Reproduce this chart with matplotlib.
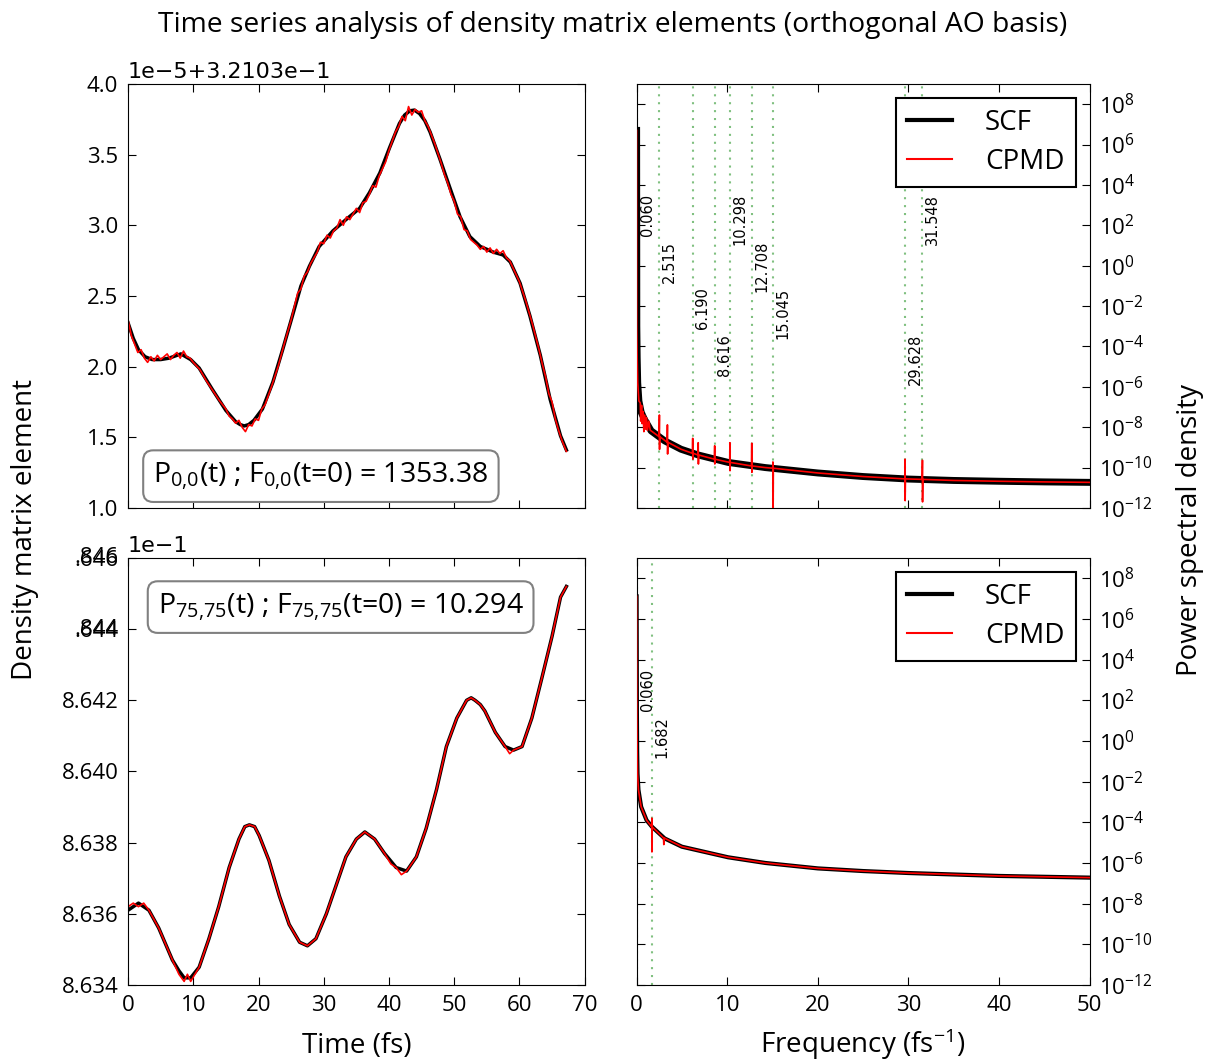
import numpy as np
import matplotlib
matplotlib.use("Agg")
import matplotlib.pyplot as plt
from matplotlib.ticker import FixedLocator, FuncFormatter, NullLocator

plt.rcParams['font.family'] = ['Open Sans', 'DejaVu Sans']
plt.rcParams['mathtext.default'] = 'regular'

# ---- top row: P(0,0) ----
t_scf_00 = [0.0, 0.8, 1.6, 2.6, 3.7, 5.0, 6.3, 8.1, 9.6, 10.9, 12.9, 15.0, 16.5, 17.2, 17.8,
            18.5, 19.3, 20.6, 22.2, 23.7, 25.2, 26.5, 27.8, 29.3, 31.4, 33.4, 35.5, 37.0,
            38.6, 40.1, 41.6, 42.4, 43.2, 43.9, 44.7, 45.5, 46.3, 47.8, 49.3, 50.9, 52.4,
            54.0, 56.0, 57.5, 58.6, 60.1, 61.6, 63.2, 64.7, 66.3, 67.2]
p_scf_00 = [2.31, 2.20, 2.12, 2.07, 2.05, 2.05, 2.06, 2.09, 2.05, 1.99, 1.84, 1.69, 1.61,
            1.59, 1.58, 1.59, 1.62, 1.70, 1.89, 2.12, 2.36, 2.57, 2.71, 2.85, 2.96, 3.04,
            3.12, 3.23, 3.37, 3.55, 3.72, 3.78, 3.81, 3.815, 3.79, 3.74, 3.66, 3.47, 3.27,
            3.06, 2.92, 2.85, 2.81, 2.79, 2.74, 2.59, 2.36, 2.08, 1.77, 1.51, 1.41]
t_cpmd_00 = [0.0, 0.5, 1.0, 1.5, 2.0, 2.5, 3.0, 3.5, 4.0, 4.5, 5.0, 5.5, 6.0, 6.5, 7.0, 7.5,
             8.0, 8.5, 9.0, 9.5, 10.0, 11.0, 12.0, 13.0, 14.0, 15.0, 15.5, 16.0, 16.5, 17.0,
             17.5, 18.0, 18.5, 19.0, 19.5, 20.0, 20.5, 21.0, 22.0, 23.0, 24.0, 25.0, 26.0,
             26.5, 27.0, 27.5, 28.0, 28.5, 29.0, 29.5, 30.0, 30.5, 31.0, 31.5, 32.0, 32.5,
             33.0, 33.5, 34.0, 34.5, 35.0, 35.5, 36.0, 36.5, 37.0, 37.5, 38.0, 38.5, 39.0,
             39.5, 40.0, 41.0, 41.5, 42.0, 42.5, 43.0, 43.5, 44.0, 44.5, 45.0, 45.5, 46.0,
             47.0, 48.0, 48.5, 49.0, 49.5, 50.0, 50.5, 51.0, 51.5, 52.0, 52.5, 53.0, 53.5,
             54.0, 54.5, 55.0, 55.5, 56.0, 56.5, 57.0, 57.5, 58.0, 58.5, 59.0, 60.0, 61.0,
             62.0, 63.0, 63.5, 64.0, 64.5, 65.0, 65.5, 66.0, 66.5, 67.2]
p_cpmd_00 = [2.33, 2.22, 2.16, 2.10, 2.12, 2.06, 2.03, 2.07, 2.04, 2.08, 2.05, 2.07, 2.09, 2.05,
             2.08, 2.10, 2.06, 2.11, 2.07, 2.06, 2.03, 1.98, 1.90, 1.83, 1.76, 1.70, 1.65,
             1.63, 1.60, 1.62, 1.57, 1.54, 1.59, 1.58, 1.63, 1.62, 1.70, 1.73, 1.86, 2.00,
             2.17, 2.33, 2.52, 2.55, 2.64, 2.67, 2.73, 2.77, 2.81, 2.88, 2.87, 2.93, 2.91,
             2.96, 2.98, 3.04, 3.00, 3.06, 3.04, 3.08, 3.12, 3.09, 3.16, 3.17, 3.22, 3.28,
             3.27, 3.35, 3.40, 3.45, 3.53, 3.66, 3.70, 3.77, 3.74, 3.84, 3.78, 3.82, 3.80,
             3.81, 3.74, 3.70, 3.58, 3.44, 3.36, 3.30, 3.22, 3.17, 3.08, 3.06, 2.97, 2.96,
             2.90, 2.88, 2.86, 2.83, 2.85, 2.81, 2.84, 2.80, 2.83, 2.80, 2.82, 2.77, 2.75,
             2.70, 2.60, 2.46, 2.30, 2.12, 2.02, 1.93, 1.81, 1.75, 1.63, 1.55, 1.48, 1.40]
offset_00 = 0.32103
scale_00 = 1e-5

# ---- bottom row: P(75,75) ----
t_scf_75 = [0.0, 1.6, 3.2, 4.7, 6.8, 7.8, 8.6, 9.6, 10.9, 12.4, 13.9, 15.5, 17.0, 17.9, 18.6,
            19.4, 20.1, 21.6, 23.2, 24.7, 26.3, 27.5, 28.8, 30.4, 31.9, 33.4, 35.0, 36.3,
            37.8, 39.3, 41.1, 42.7, 44.2, 45.7, 47.3, 48.8, 50.4, 51.9, 52.6, 53.2, 54.0,
            54.7, 56.3, 57.8, 59.1, 60.4, 61.9, 63.4, 65.0, 66.3, 67.2]
p_scf_75 = [8.6361, 8.6363, 8.6361, 8.6356, 8.6347, 8.6344, 8.6342, 8.6342, 8.6345, 8.6353,
            8.6362, 8.6373, 8.6381, 8.63845, 8.6385, 8.63845, 8.6382, 8.6375, 8.6365, 8.6357,
            8.6352, 8.6351, 8.6353, 8.6360, 8.6368, 8.6376, 8.6381, 8.6383, 8.6381, 8.6377,
            8.6373, 8.6372, 8.6376, 8.6384, 8.6395, 8.6407, 8.6415, 8.6420, 8.64207, 8.6420,
            8.64188, 8.6417, 8.6411, 8.6407, 8.6406, 8.6407, 8.6415, 8.6426, 8.6438, 8.6449,
            8.6452]
t_cpmd_75 = [0.0, 0.8, 1.6, 2.4, 3.2, 4.7, 6.8, 7.8, 8.6, 9.1, 9.6, 10.9, 12.4, 13.9, 15.5,
             17.0, 17.9, 18.6, 19.4, 20.1, 21.6, 23.2, 24.7, 26.3, 27.5, 28.8, 30.4, 31.9,
             33.4, 35.0, 36.3, 37.8, 39.3, 40.3, 41.1, 41.9, 42.7, 44.2, 45.7, 47.3, 48.8,
             50.4, 51.9, 52.6, 53.2, 54.0, 54.7, 56.3, 57.8, 58.5, 59.1, 60.4, 61.9, 63.4,
             65.0, 66.3, 67.2]
p_cpmd_75 = [8.6362, 8.6363, 8.6362, 8.6363, 8.6361, 8.6356, 8.6347, 8.6343, 8.6341, 8.6343,
             8.6341, 8.6345, 8.6353, 8.6362, 8.6373, 8.6381, 8.63845, 8.6385, 8.63845, 8.6382,
             8.6375, 8.6365, 8.6357, 8.6352, 8.6351, 8.6353, 8.6360, 8.6368, 8.6376, 8.6381,
             8.6383, 8.6381, 8.6377, 8.6374, 8.6373, 8.6371, 8.6372, 8.6376, 8.6384, 8.6395,
             8.6407, 8.6415, 8.6420, 8.64207, 8.6420, 8.64188, 8.6417, 8.6411, 8.6407, 8.6405,
             8.6406, 8.6407, 8.6415, 8.6426, 8.6438, 8.6449, 8.6452]
scale_75 = 1e-1

# ---- power spectra ----
f_scf_00 = [0.0, 0.02, 0.06, 0.12, 0.25, 0.5, 0.85, 1.6, 3.1, 4.9, 6.8, 10.1, 14.2, 20.0,
            25.0, 30.0, 35.0, 40.0, 45.0, 50.0]
psd_scf_00 = [5e6, 1e-3, 3e-5, 1.6e-6, 2e-7, 5.6e-8, 2.5e-8, 6.6e-9, 2.1e-9, 8.1e-10,
              4.2e-10, 1.8e-10, 1.0e-10, 5.4e-11, 3.6e-11, 2.7e-11, 2.3e-11, 2.1e-11,
              1.95e-11, 1.85e-11]
f_cpmd_00 = [0.0, 0.02, 0.06, 0.12, 0.25, 0.4, 0.45, 0.55, 0.6, 0.7, 0.8, 0.9, 1.0, 1.1,
             1.2, 1.35, 1.5, 1.6, 2.48, 2.515, 2.53, 2.56, 3.37, 3.4, 3.42, 3.45, 4.9,
             6.16, 6.19, 6.21, 6.24, 6.77, 6.8, 6.82, 6.85, 8.59, 8.616, 8.63, 8.66,
             10.27, 10.298, 10.31, 10.34, 12.68, 12.708, 12.72, 12.75, 14.2, 15.02, 15.045,
             15.06, 15.09, 20.0, 25.0, 29.6, 29.628, 29.64, 29.67, 31.52, 31.548, 31.56,
             31.59, 35.0, 40.0, 45.0, 50.0]
psd_cpmd_00 = [5e6, 1e-3, 3e-5, 1.6e-6, 2e-7, 1.6e-7, 2e-8, 1.2e-7, 1.5e-8, 6e-8, 6e-9,
               4e-8, 8e-9, 3e-8, 7e-9, 2e-8, 7e-9, 6.6e-9, 3.4e-9, 4e-8, 8e-10, 3.4e-9,
               1.8e-9, 1.3e-8, 4.7e-10, 1.8e-9, 8.1e-10, 5.1e-10, 2.8e-9, 2.6e-10, 5.1e-10,
               4.2e-10, 1.7e-9, 1.5e-10, 4.2e-10, 2.6e-10, 1.2e-9, 1.5e-10, 2.6e-10,
               1.8e-10, 1.7e-9, 7e-11, 1.8e-10, 1.2e-10, 1.6e-9, 5.8e-11, 1.2e-10, 1.0e-10,
               9.3e-11, 1.9e-10, 1e-13, 9.3e-11, 5.4e-11, 3.6e-11, 2.75e-11, 2.6e-10,
               2.3e-12, 2.75e-11, 2.6e-11, 2.3e-10, 2e-12, 2.6e-11, 2.3e-11, 2.1e-11,
               1.95e-11, 1.85e-11]
f_scf_75 = [0.0, 0.03, 0.06, 0.1, 0.2, 0.5, 1.1, 1.7, 3.1, 5.0, 10.1, 14.2, 20.0, 25.0,
            30.0, 40.0, 50.0]
psd_scf_75 = [1.3e7, 30.0, 0.3, 2.5e-2, 4e-3, 5.8e-4, 1.26e-4, 6e-5, 1.6e-5, 6.3e-6,
              1.9e-6, 1.0e-6, 5.4e-7, 4e-7, 3.2e-7, 2.3e-7, 1.9e-7]
f_cpmd_75 = [0.0, 0.03, 0.06, 0.1, 0.2, 0.5, 1.1, 1.66, 1.682, 1.69, 1.71, 2.97, 3.0, 3.03,
             5.0, 10.1, 14.2, 20.0, 25.0, 30.0, 40.0, 50.0]
psd_cpmd_75 = [1.3e7, 30.0, 0.3, 2.5e-2, 4e-3, 5.8e-4, 1.26e-4, 6e-5, 1.6e-4, 3.5e-6, 6e-5,
               1.7e-5, 8e-6, 1.7e-5, 6.3e-6, 1.9e-6, 1.0e-6, 5.4e-7, 4e-7, 3.2e-7, 2.3e-7,
               1.9e-7]

peaks_00 = [0.060, 2.515, 6.190, 8.616, 10.298, 12.708, 15.045, 29.628, 31.548]
peaks_75 = [0.060, 1.682]
label_levels = [0.74, 0.63, 0.52, 0.41]

fig = plt.figure(figsize=(12.08, 10.6), dpi=100)
ax_t0 = fig.add_axes([0.106, 0.5208, 0.378, 0.4])
ax_f0 = fig.add_axes([0.527, 0.5208, 0.375, 0.4])
ax_t1 = fig.add_axes([0.106, 0.0708, 0.378, 0.4028])
ax_f1 = fig.add_axes([0.527, 0.0708, 0.375, 0.4028])

tick_kw = dict(direction='in', length=5.5, width=0.8, labelsize=16, top=True, right=True)


def time_panel(ax, t_s, p_s, t_c, p_c, to_real, ylim, yticks, fmt, offset_txt, label, loc):
    ax.plot(t_s, to_real(np.array(p_s)), color='black', lw=2.5)
    ax.plot(t_c, to_real(np.array(p_c)), color='red', lw=1.2)
    ax.set_xlim(0, 70)
    ax.set_ylim(to_real(np.array(ylim)))
    ax.yaxis.set_major_locator(FixedLocator(to_real(np.array(yticks))))
    ax.yaxis.set_major_formatter(FuncFormatter(fmt))
    ax.set_xticks(np.arange(0, 71, 10))
    ax.tick_params(pad=7, **tick_kw)
    ax.text(0.0, 1.004, offset_txt, transform=ax.transAxes, fontsize=16,
            family='DejaVu Sans', ha='left', va='bottom')
    box = dict(boxstyle='round,pad=0.35', fc='white', ec='#808080', lw=1.5)
    if loc == 'lower':
        ax.text(0.055, 0.075, label, transform=ax.transAxes, fontsize=20.5,
                ha='left', va='center', bbox=box)
    else:
        ax.text(0.065, 0.885, label, transform=ax.transAxes, fontsize=20.5,
                ha='left', va='center', bbox=box)


def psd_panel(ax, f_s, psd_s, f_c, psd_c, peaks, lw_scf):
    for i, p in enumerate(peaks):
        ax.axvline(p, color='#80c080', ls=(0, (1, 2.8)), lw=1.5, zorder=1)
        ax.text(p + 0.3, label_levels[i % 4], f"{p:.3f}", rotation=90, fontsize=10.5,
                family='DejaVu Sans', ha='left', va='top',
                transform=ax.get_xaxis_transform())
    ax.plot(f_s, psd_s, color='black', lw=lw_scf, label='SCF', zorder=3)
    ax.plot(f_c, psd_c, color='red', lw=1.2, label='CPMD', zorder=4)
    ax.set_yscale('log')
    ax.set_xlim(0, 50)
    ax.set_ylim(1e-12, 1e9)
    ax.yaxis.set_major_locator(FixedLocator([10.0 ** e for e in range(-12, 9, 2)]))
    ax.yaxis.set_minor_locator(NullLocator())
    ax.yaxis.set_major_formatter(FuncFormatter(lambda v, pos: r"$10^{%d}$" % round(np.log10(v))))
    ax.set_xticks(np.arange(0, 51, 10))
    ax.tick_params(pad=7, labelleft=False, labelright=True, **tick_kw)
    leg = ax.legend(loc='upper right', fontsize=20, fancybox=False, edgecolor='black',
                    framealpha=1, borderaxespad=0.5, handlelength=1.6, handletextpad=1.2,
                    labelspacing=0.4)
    leg.get_frame().set_linewidth(1.5)
    leg.get_lines()[0].set_linewidth(3)
    leg.get_lines()[1].set_linewidth(1.5)


time_panel(ax_t0, t_scf_00, p_scf_00, t_cpmd_00, p_cpmd_00,
           lambda y: offset_00 + y * scale_00, [1.0, 4.0], [1.0, 1.5, 2.0, 2.5, 3.0, 3.5, 4.0],
           lambda v, pos: f"{(v - offset_00) / scale_00:.1f}",
           "1e\u22125+3.2103e\u22121",
           r"P$_{0{,}0}$(t) ; F$_{0{,}0}$(t=0) = 1353.38", 'lower')


def fmt_75(v, pos):
    s = f"{v / scale_75:.3f}"
    if s in ("8.646", "8.644"):
        return "." + s[2:]
    return s


time_panel(ax_t1, t_scf_75, p_scf_75, t_cpmd_75, p_cpmd_75,
           lambda y: y * scale_75, [8.634, 8.646],
           [8.634, 8.636, 8.638, 8.640, 8.642, 8.644, 8.646], fmt_75,
           "1e\u22121", r"P$_{75{,}75}$(t) ; F$_{75{,}75}$(t=0) = 10.294", 'upper')
# the two top tick labels of the reference are printed over one another
for v in (8.646, 8.644):
    ax_t1.annotate(".8" + f"{v:.3f}"[3:], xy=(0, v * scale_75),
                   xycoords=('axes fraction', 'data'), xytext=(-7, 0),
                   textcoords='offset points', ha='right', va='center', fontsize=16)

ax_t0.tick_params(labelbottom=False)
ax_t1.set_xlabel("Time (fs)", fontsize=20, labelpad=12)

psd_panel(ax_f0, f_scf_00, psd_scf_00, f_cpmd_00, psd_cpmd_00, peaks_00, 5)
psd_panel(ax_f1, f_scf_75, psd_scf_75, f_cpmd_75, psd_cpmd_75, peaks_75, 3)
ax_f0.tick_params(labelbottom=False)
ax_f1.set_xlabel("Frequency (fs$^{-1}$)", fontsize=20, labelpad=8)

fig.text(0.507, 0.976, "Time series analysis of density matrix elements (orthogonal AO basis)",
         ha='center', va='center', fontsize=20.3)
fig.text(0.021, 0.5, "Density matrix element", rotation=90, ha='center', va='center',
         fontsize=20)
fig.text(0.985, 0.5, "Power spectral density", rotation=90, ha='center', va='center',
         fontsize=20)

fig.savefig("out.png", dpi=100)
